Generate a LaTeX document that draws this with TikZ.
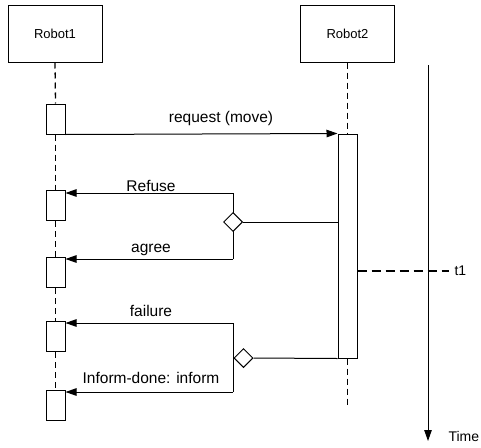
\documentclass[tikz,border=0pt]{standalone}
\usepackage{fontspec}
\setmainfont{Liberation Sans}
\usetikzlibrary{arrows.meta,shapes.geometric,positioning}
\tikzset{
  robot/.style={draw, minimum width=94pt, minimum height=57pt, inner sep=0pt, font=\fontsize{13}{15}\selectfont},
  act/.style={draw, fill=white, minimum width=19pt, minimum height=30pt, inner sep=0pt},
  msg/.style={-{Triangle[length=11pt,width=7.5pt]}},
  lbl/.style={font=\fontsize{15.5}{18}\selectfont, inner sep=0pt, anchor=base},
  choice/.style={draw, diamond, fill=white, minimum size=19pt, inner sep=0pt},
  life/.style={line width=1.3pt, dash pattern=on 6pt off 4pt}
}
\begin{document}
\begin{tikzpicture}[x=1pt, y=-1pt, line width=1pt]
\useasboundingbox (0,0) rectangle (481,447);
% lifeline heads
\node[robot] (r1) at (55,33.5) {Robot1};
\node[robot] (r2) at (347.5,33.5) {Robot2};
% activations
\node[act] (a1) at (55.5,119) {};
\node[act] (a2) at (55.5,205.5) {};
\node[act] (a3) at (55.5,272.5) {};
\node[act] (a4) at (55.5,336.5) {};
\node[act] (a5) at (55.5,405) {};
\node[act, minimum height=224pt] (b1) at (347.5,246) {};
\coordinate (r2end) at (347.5,405);
% lifelines
\draw[life] (r1.south) -- (a1.north);
\draw[life] (a1.south) -- (a2.north);
\draw[life] (a2.south) -- (a3.north);
\draw[life] (a3.south) -- (a4.north);
\draw[life] (a4.south) -- (a5.north);
\draw[life] (r2.south) -- (b1.north);
\draw[life] (b1.south) -- (r2end);
% request
\draw[msg] (a1.south east) -- (b1.north west);
\node[lbl] (lreq) at (221,122) {request (move)};
% first choice
\coordinate (c1) at (233,193);
\coordinate (c2) at (233,259);
\draw (c1) -- (c2);
\draw[msg] (c1) -- (c1 -| a2.east);
\draw[msg] (c2) -- (c2 -| a3.east);
\node[choice] (d1) at (233,222) {};
\draw (d1.east) -- (d1.east -| b1.west);
\node[lbl] (lref) at (151,191) {Refuse};
\node[lbl] (lagr) at (151,252) {agree};
% second choice
\coordinate (c3) at (233,323);
\coordinate (c4) at (233,392);
\draw (c3) -- (c4);
\draw[msg] (c3) -- (c3 -| a4.east);
\draw[msg] (c4) -- (c4 -| a5.east);
\node[choice] (d2) at (243.5,358) {};
\draw (d2.east) -- (b1.south west);
\node[lbl] (lfail) at (151,316) {failure};
\node[lbl] (linf) at (151,383) {Inform-done: inform};
% time axis
\coordinate (ttop) at (428,65);
\coordinate (tbot) at (428,441);
\draw[msg] (ttop) -- (tbot);
\node[anchor=west, inner sep=0pt, font=\fontsize{14}{16}\selectfont] (time) at (448,436) {Time};
\node[anchor=west, inner sep=0pt, font=\fontsize{14}{16}\selectfont] (t1) at (454,271) {t1};
\draw[line width=1.3pt, dash pattern=on 9pt off 5pt] (t1.west -| b1.east) -- ([xshift=-5pt]t1.west);
\end{tikzpicture}
\end{document}
